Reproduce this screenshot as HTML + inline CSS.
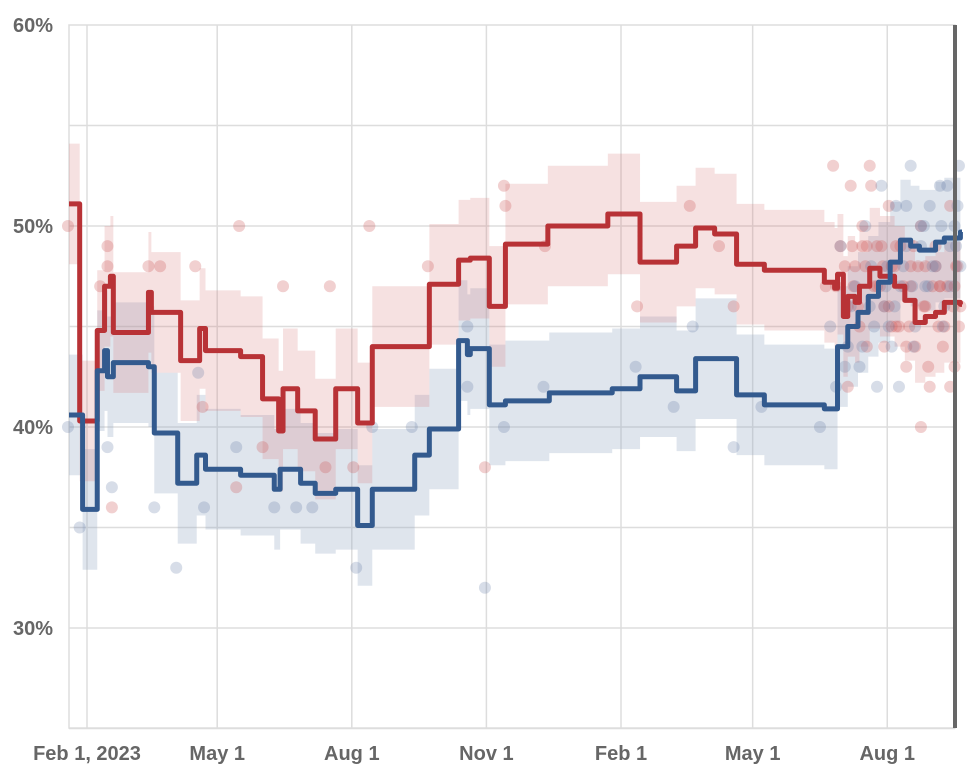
<!DOCTYPE html>
<html><head><meta charset="utf-8"><style>
body{margin:0;background:#fff;}
svg{display:block;font-family:"Liberation Sans",sans-serif;}
</style></head><body>
<svg id="chart" width="969" height="780" viewBox="0 0 969 780" xmlns="http://www.w3.org/2000/svg">
<g id="grid"></g>
<g id="bands"></g>
<g id="dots"></g>
<g id="lines"></g>
<g id="axes"></g>
</svg>
<script>
// days from Feb 1, 2023
const redDays=[-13,-5,7,12,16,18,42,44,64,77,81,105,120,131,134,144,156,170,185,195,234,254,262,275,286,315,356,378,403,416,429,444,463,504,511,513,517,520,525,528,535,542,552,559,566,573,580,586,597];
const redVals=[51.1,40.3,44.8,47.0,47.5,44.7,46.7,45.7,43.3,44.9,43.8,43.5,41.4,39.8,41.9,40.8,39.4,41.9,40.2,44.0,47.1,48.3,48.4,46.0,49.1,50.0,50.6,48.2,49.0,49.9,49.6,48.1,47.8,47.2,46.9,47.6,45.5,46.5,46.2,47.0,47.9,47.5,47.0,46.3,45.2,45.5,45.7,46.2,46.1];
const blueDays=[-13,-3,7,12,14,18,42,46,62,75,81,105,128,132,146,156,170,185,195,224,234,254,260,262,275,286,316,359,378,403,416,444,463,504,513,520,527,534,541,549,556,563,569,580,586,597];
const blueVals=[40.6,35.9,42.8,43.8,42.5,43.2,43.0,39.7,37.2,38.6,37.9,37.6,36.9,37.9,37.2,36.7,36.9,35.1,36.9,38.6,39.9,44.3,43.6,43.9,41.1,41.3,41.7,41.9,42.5,41.8,43.4,41.6,41.1,40.9,44.0,45.0,45.7,46.5,47.2,48.2,49.3,49.0,48.8,49.2,49.4,49.7];
const bandHalf=3.0;
const redPollDays=[-13,14,14,9,42,50,74,104,134,166,193,233,285,286,313,376,412,432,442,17,102,163,272,182,79,120,505,510,515,520,522,525,528,530,533,536,540,542,545,548,550,553,556,560,563,566,570,573,576,580,583,586,590,593,595,597,520,530,540,550,560,570,580,590,535,555,575,545,565,585,512,518,524,527,532,538,544,548,552,558,562,568,572,578,582,588,592,594,596,523,533,543,553,563,573,583,593];
const redPollVals=[50,49,48,47,48,48,48,50,47,47,50,48,52,51,49,46,51,49,46,36,37,38,38,38,41,39,47,53,49,46,52,48,45,49,44,52,49,47,44,51,48,45,49,43,47,44,50,46,42,49,47,45,51,43,48,46,42,50,47,45,44,40,48,42,53,45,43,46,49,44,47,48,47,46,48,47,48,46,48,47,45,48,46,47,45,47,46,48,45,49,49,49,49,48,48,47,47];
const bluePollDays=[-13,-5,14,17,46,61,76,80,102,128,143,154,184,195,222,260,260,272,285,312,375,414,401,442,461,501,508,512,515,520,525,528,532,535,540,543,547,550,553,556,560,563,566,570,573,576,580,583,586,590,593,596,597,545,555,565,575,585,595,518,522,530,538,546,552,558,564,570,578,584,590,594,536,548,560,572,588];
const bluePollVals=[40,35,39,37,36,33,42.7,36,39,36,36,36,33,40,40,45,42,32,40,42,43,45,41,39,41,40,45,42,49,44,47,43,50,46,42,52,48,44,51,47,49,53,45,50,47,51,48,52,46,49,50,53,48,46,42,44,47,45,51,43,46,44,45,47,46,48,47,49,48,50,47,49,48,45,51,50,52];
const yTicks=[60,50,40,30];
const xTickLabels=["Feb 1, 2023","May 1","Aug 1","Nov 1","Feb 1","May 1","Aug 1"];
const xTickDays=[0,89,181,273,365,455,547];

const L=69,R=955,T=25,B=728;
const X=d=>87+d*1.463;
const Y=v=>25+(60-v)*20.1;
const NS="http://www.w3.org/2000/svg";
function mk(tag,parent,attrs){const e=document.createElementNS(NS,tag);for(const k in attrs)e.setAttribute(k,attrs[k]);parent.appendChild(e);return e;}
const grid=document.getElementById('grid'),axes=document.getElementById('axes');
mk('rect',grid,{x:L,y:T,width:R-L,height:B-T,fill:'none',stroke:'#ddd','stroke-width':1.5});
for(let v=55;v>=25;v-=5){const g=mk('line',grid,{x1:L,x2:R,y1:Y(v),y2:Y(v),stroke:'#ddd','stroke-width':1.5});

}
xTickDays.forEach((d,i)=>{const g=mk('line',grid,{x1:X(d),x2:X(d),y1:T,y2:B,stroke:'#ddd','stroke-width':1.5});


const t=mk('text',axes,{x:X(d),y:760,'text-anchor':'middle','font-size':20,'font-weight':'bold',fill:'#666'});t.textContent=xTickLabels[i];

});
yTicks.forEach(v=>{const t=mk('text',axes,{x:53,y:Y(v)+7,'text-anchor':'end','font-size':20,'font-weight':'bold',fill:'#666'});t.textContent=v+'%';

});
const cur=mk('line',axes,{x1:R,x2:R,y1:T,y2:B,stroke:'#666','stroke-width':4});



function stepPts(days,vals,off){const p=[];for(let i=0;i<days.length;i++){const x0=Math.max(L,X(days[i]));const x1=i<days.length-1?X(days[i+1]):X(days[i]);const y=Y(vals[i]+off);p.push([x0,y],[x1,y]);}return p;}
function band(days,vals,fill,name){const top=stepPts(days,vals,bandHalf),bot=stepPts(days,vals,-bandHalf).reverse();const pts=top.concat(bot).map(p=>p.join(',')).join(' ');
const e=mk('polygon',document.getElementById('bands'),{points:pts,fill:fill});

}
band(blueDays,blueVals,'rgba(150,168,195,0.3)','blue-band');
band(redDays,redVals,'rgba(215,120,120,0.22)','red-band');
const dg=document.getElementById('dots');
redPollDays.forEach((d,i)=>{const c=mk('circle',dg,{cx:X(d),cy:Y(redPollVals[i]),r:6,fill:'rgba(205,85,85,0.28)'});

});
bluePollDays.forEach((d,i)=>{const c=mk('circle',dg,{cx:X(d),cy:Y(bluePollVals[i]),r:6,fill:'rgba(95,120,165,0.25)'});

});
function line(days,vals,color,name){const pts=stepPts(days,vals,0);pts[pts.length-1][0]=962;
const e=mk('polyline',document.getElementById('lines'),{points:pts.map(p=>p.join(',')).join(' '),fill:'none',stroke:color,'stroke-width':5,'stroke-linejoin':'round'});

}
line(redDays,redVals,'#b83236','red-trend-line');
line(blueDays,blueVals,'#335a8e','blue-trend-line');
</script>
</body></html>
